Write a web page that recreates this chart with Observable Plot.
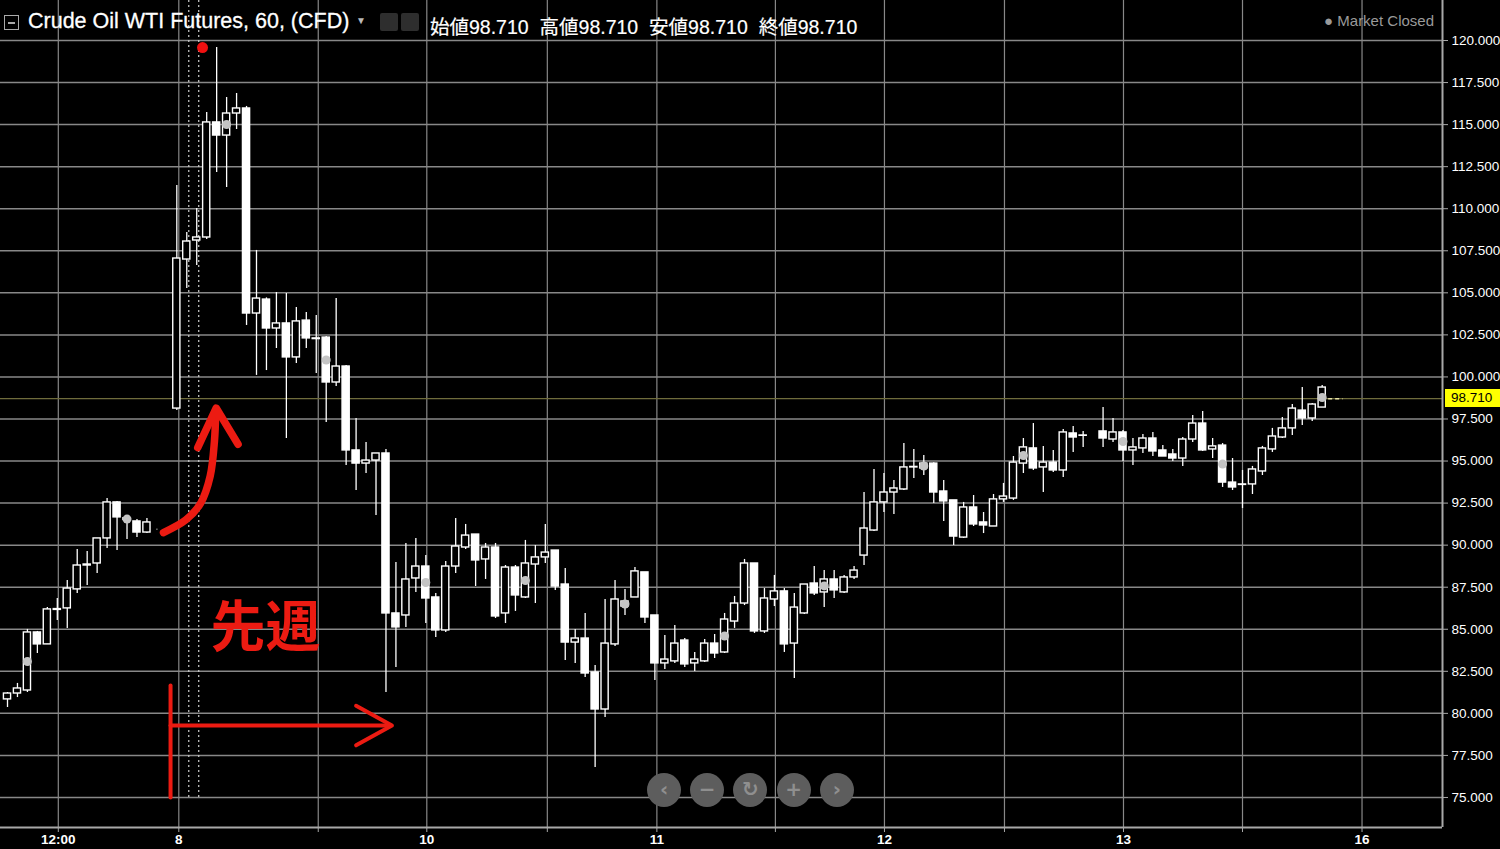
<!DOCTYPE html>
<html>
<head>
<meta charset="utf-8">
<script src="https://cdn.jsdelivr.net/npm/d3@7"></script>
<script src="https://cdn.jsdelivr.net/npm/@observablehq/plot@0.6"></script>
<style>
  html, body { margin: 0; padding: 0; background: #000; }
  #wrap { position: relative; width: 1500px; height: 849px; overflow: hidden; background: #000; }
  #chart svg { display: block; }
  .hdr { position: absolute; top: 0; left: 0; height: 40px; width: 1500px; font-family: "Liberation Sans", Arial, sans-serif; color: #fff; }
  .box { position: absolute; left: 4px; top: 15px; width: 13px; height: 13px; border: 1.5px solid #aaa; }
  .box::after { content: ""; position: absolute; left: 3px; right: 3px; top: 6px; height: 1.5px; background: #aaa; }
  .title { position: absolute; left: 28px; top: 9px; font-size: 21.5px; white-space: nowrap; -webkit-text-stroke: 0.3px #fff; }
  .caret { position: absolute; left: 356px; top: 15px; font-size: 10px; color: #bbb; }
  .ico { position: absolute; top: 13px; width: 18px; height: 18px; background: #2e2e2e; border-radius: 2px; }
  .ohlc { position: absolute; left: 430px; top: 11px; font-size: 19.5px; white-space: nowrap; word-spacing: 5.5px; font-family: "Liberation Sans", "Noto Sans CJK JP", sans-serif; -webkit-text-stroke: 0.2px #fff; }
  .mkt { position: absolute; right: 66px; top: 12px; font-size: 15px; color: #9a9a9a; white-space: nowrap; }
  .tag { position: absolute; left: 1445px; width: 58px; height: 18px; background: #ffff00; color: #000; font: 13.5px "Liberation Sans", Arial, sans-serif; line-height: 18px; padding-left: 6px; box-sizing: border-box; }
  .btn { position: absolute; width: 34px; height: 34px; border-radius: 17px; background: #5d5d5d; color: #8f8f8f; font: bold 20px "DejaVu Sans", sans-serif; text-align: center; line-height: 33px; }
</style>
</head>
<body>
<div id="wrap">
  <div id="chart"></div>
  <div class="hdr">
    <div class="box"></div>
    <div class="title">Crude Oil WTI Futures, 60, (CFD)</div>
    <div class="caret">▼</div>
    <div class="ico" style="left:380px"></div>
    <div class="ico" style="left:401px"></div>
    <div class="ohlc" id="ohlc"></div>
    <div class="mkt">● Market Closed</div>
  </div>
  <div class="tag" id="tag"></div>
  <div id="btns"></div>
</div>
<script>
// ---- data (hourly candles, index = bar number; index 16 has no bar) ----
const opens  = [80.83,81.18,81.36,84.81,84.10,86.15,86.24,87.37,88.79,88.91,90.40,92.54,91.60,91.41,90.75,90.93,null,
  98.12,106.98,108.11,108.29,115.13,114.35,115.66,115.96,103.77,104.60,102.88,103.18,101.16,103.35,102.29,102.34,99.67,100.62,95.63,94.85,95.03,95.45,85.94,85.82,88.02,88.73,86.89,84.93,88.73,89.86,90.63,89.15,89.86,85.94,88.67,86.89,88.85,89.27,89.68,87.66,84.21,84.45,82.43,80.23,84.10,86.35,86.89,88.38,85.82,82.97,83.09,84.33,82.97,83.09,84.15,83.62,85.46,86.53,88.91,84.87,86.77,87.25,84.15,85.94,87.72,87.19,87.96,87.19,88.08,89.38,90.87,92.54,93.13,93.31,94.62,94.56,94.85,93.19,92.66,90.45,92.24,91.35,91.11,92.72,92.77,94.85,95.75,94.62,94.91,94.44,96.64,96.52,95.75,96.76,96.28,96.70,95.63,95.75,96.34,95.63,95.39,95.15,96.28,97.23,95.69,95.92,93.72,93.61,93.61,94.38,95.69,96.40,96.94,98.00,97.53,98.18];
const highs  = [81.24,81.78,84.99,84.87,86.29,86.83,87.90,89.74,89.62,90.40,92.77,92.60,91.76,91.53,91.59,90.95,null,
  111.38,108.59,110.01,115.72,119.58,116.61,116.85,116.08,107.52,104.70,105.02,104.96,104.13,103.83,103.65,102.40,104.66,100.68,97.53,96.10,95.45,95.69,88.97,90.10,90.40,89.38,87.13,89.03,91.59,91.23,90.63,90.10,90.10,88.79,88.79,90.28,89.98,91.23,89.68,88.61,84.99,85.94,82.85,86.77,87.90,87.37,88.67,88.38,85.82,84.63,85.23,84.45,83.62,84.39,84.69,85.94,86.95,89.15,88.91,87.42,88.20,87.42,87.13,87.66,88.73,88.49,88.49,88.20,88.73,93.13,94.50,94.26,93.84,96.04,95.69,95.33,94.90,93.84,92.66,92.54,92.95,91.94,93.01,93.67,95.27,96.34,97.23,95.87,95.63,96.88,97.05,96.76,95.75,98.18,97.53,96.82,96.34,96.58,96.70,95.92,95.69,96.40,97.71,97.95,96.34,96.04,95.15,94.44,94.68,95.87,96.94,97.59,98.36,99.37,98.42,99.49];
const lows   = [80.35,80.94,81.24,83.56,84.10,85.52,85.05,87.13,87.60,88.32,89.80,89.68,90.34,90.45,90.69,90.90,null,
  98.00,105.26,106.63,108.17,112.15,111.26,114.71,103.06,100.09,100.38,101.69,96.34,100.80,101.69,100.20,97.29,99.43,94.74,93.25,94.26,91.76,81.24,82.73,85.11,87.19,85.34,84.51,84.81,88.32,89.74,87.54,87.96,85.64,85.34,86.06,86.83,86.53,88.91,87.31,83.14,82.97,82.13,76.78,79.76,83.98,85.82,86.89,85.34,81.95,82.61,82.97,82.73,82.49,83.03,83.26,83.56,85.05,86.41,84.75,84.75,86.35,83.62,82.07,85.88,87.01,86.29,86.83,87.13,87.96,88.79,90.81,91.94,91.82,93.25,93.96,94.14,92.48,91.41,89.98,90.40,91.11,90.69,91.11,92.54,92.66,94.26,94.44,93.13,94.32,94.02,95.51,95.81,95.75,95.81,96.10,94.97,94.74,95.45,95.27,95.27,94.97,94.68,96.10,95.57,95.15,93.43,93.25,92.18,93.01,94.14,95.51,96.34,96.52,97.11,97.35,98.18];
const closes = [81.18,81.48,84.81,84.10,86.18,86.20,87.42,88.79,88.85,90.40,92.54,91.65,91.50,90.75,91.35,90.93,null,
  107.04,108.05,108.29,115.13,114.35,115.66,115.96,103.77,104.66,102.88,103.18,101.16,103.30,102.29,102.25,99.67,100.62,95.63,94.85,95.03,95.45,85.94,85.11,87.96,88.73,86.83,84.93,88.73,89.92,90.57,89.09,89.86,85.76,88.67,87.01,88.91,89.27,89.56,87.54,84.21,84.45,82.37,80.23,84.15,86.77,86.65,88.44,85.70,82.97,83.20,84.15,82.91,83.20,84.15,83.56,85.58,86.53,88.91,84.87,86.83,87.25,84.10,86.29,87.66,87.13,87.96,87.31,88.08,88.49,90.99,92.54,93.13,93.37,94.62,94.65,94.85,93.13,92.60,90.51,92.24,91.23,91.17,92.72,92.89,94.91,95.81,94.56,94.91,94.44,96.70,96.40,96.50,95.75,96.34,96.70,95.63,95.81,96.34,95.57,95.27,95.15,96.28,97.23,95.63,95.87,93.72,93.43,93.58,94.50,95.75,96.46,96.94,98.12,97.53,98.36,99.37];
const markerBars = [2,12,22,32,42,52,62,72,82,92,102,112,122,132];   // grey session dots
const lastPrice = 98.71;
const sessionBreaks = [18.2, 19.2];                                  // dotted verticals
const yTicks = [75,77.5,80,82.5,85,87.5,90,92.5,95,97.5,100,102.5,105,107.5,110,112.5,115,117.5,120];
const xTickPos    = [5.1, 17.2, 31.2, 42.1, 54.2, 65.2, 77.1, 88.05, 100.1, 112.05, 124, 136];
const xTickLabels = ["12:00","8","","10","","11","","12","","13","","16"];
const ohlcLabels = ["始値","高値","安値","終値"];
// annotation shapes (in bar-index / price units)
const curvePts  = [{x:15.66,y:90.75},{x:17.9,y:91.5},{x:19.4,y:92.5},{x:20.35,y:94.1},{x:20.78,y:96.2},{x:20.9,y:97.8}];
const headPts   = [{x:19.1,y:95.8},{x:20.95,y:98.15},{x:23.15,y:96.0}];
const weekBar   = [{x:16.37,y:81.66},{x:16.37,y:75.0}];
const weekArrow = [{x:16.37,y:79.28},{x:38.45,y:79.28}];
const weekHead  = [{x:35.0,y:80.45},{x:38.6,y:79.28},{x:35.0,y:78.1}];
const annText   = [{x:25.9,y:85.05,t:"先週"}];
const peakDot   = [{x:19.58,y:119.58}];

// ---- build ----
const candles = opens.map((o,i)=>({i, open:o, high:highs[i], low:lows[i], close:closes[i]})).filter(d=>d.open!=null);
const markers = candles.filter(d=>markerBars.includes(d.i));
const lastBar = candles[candles.length-1].i;
const xDomain = [-0.703, 144.08];
const yDomain = [73.215, 122.378];
const labelMap = new Map(xTickPos.map((p,k)=>[p, xTickLabels[k]]));
const RED = "#ec1b12";
const GRID = "#888888";

const chart = Plot.plot({
  width: 1500, height: 849,
  marginLeft: 0, marginRight: 58, marginTop: 0, marginBottom: 22,
  style: {background: "#000", color: "#fff", fontFamily: "Liberation Sans, Arial, sans-serif", fontSize: "13px", overflow: "visible"},
  x: {domain: xDomain, axis: null},
  y: {domain: yDomain, axis: null},
  marks: [
    Plot.gridX(xTickPos, {stroke: GRID, strokeOpacity: 1, strokeWidth: 1.2}),
    Plot.gridY(yTicks, {stroke: GRID, strokeOpacity: 1, strokeWidth: 1.5}),
    Plot.ruleY([lastPrice], {stroke: "#6f6c3c", strokeWidth: 1.2}),
    Plot.ruleX(sessionBreaks, {y1: 75, y2: yDomain[1], stroke: "#cfcfcf", strokeWidth: 1.2, strokeDasharray: "2,3"}),
    Plot.ruleX([xDomain[1]], {stroke: "#a8a8a8", strokeWidth: 2}),
    Plot.ruleY([yDomain[0]], {stroke: "#a8a8a8", strokeWidth: 2}),
    Plot.axisY(yTicks, {anchor: "right", tickFormat: d3.format(".3f"), tickSize: 5, tickPadding: 4, stroke: "#a8a8a8", fill: "#fff", fontSize: 13.5}),
    Plot.axisX(xTickPos, {anchor: "bottom", tickFormat: d => labelMap.get(d), tickSize: 5, tickPadding: 2, stroke: "#a8a8a8", fill: "#fff", fontSize: 13.5, fontWeight: "bold"}),
    // candles
    Plot.ruleX(candles, {x: "i", y1: "low", y2: "high", stroke: "#fff", strokeWidth: 1.3}),
    Plot.rect(candles, {x1: d => d.i - 0.36, x2: d => d.i + 0.36, y1: "open", y2: "close",
      fill: d => d.close > d.open ? "#000" : "#fff", stroke: "#fff", strokeWidth: 1.4}),
    Plot.dot(markers, {x: "i", y: d => (d.open + d.close) / 2, r: 4.5, fill: "#c4c4c4", stroke: "none"}),
    Plot.ruleY([lastPrice], {x1: lastBar + 0.65, x2: lastBar + 2.1, stroke: "#e6e2a6", strokeWidth: 1.5, strokeDasharray: "4,3"}),
    // annotations
    Plot.line(curvePts, {x: "x", y: "y", stroke: RED, strokeWidth: 7.5, curve: "catmull-rom", strokeLinecap: "round", strokeLinejoin: "round"}),
    Plot.line(headPts, {x: "x", y: "y", stroke: RED, strokeWidth: 7.5, strokeLinecap: "round", strokeLinejoin: "round"}),
    Plot.line(weekBar, {x: "x", y: "y", stroke: RED, strokeWidth: 4, strokeLinecap: "round"}),
    Plot.line(weekArrow, {x: "x", y: "y", stroke: RED, strokeWidth: 4, strokeLinecap: "round"}),
    Plot.line(weekHead, {x: "x", y: "y", stroke: RED, strokeWidth: 4, strokeLinecap: "round", strokeLinejoin: "round"}),
    Plot.text(annText, {x: "x", y: "y", text: "t", fill: RED, fontSize: 55, fontWeight: "bold", fontFamily: "Noto Sans CJK JP"}),
    Plot.dot(peakDot, {x: "x", y: "y", r: 5.5, fill: "#f01010", stroke: "none"})
  ]
});
document.getElementById("chart").append(chart);

// header OHLC
const lp = d3.format(".3f")(lastPrice);
document.getElementById("ohlc").textContent = ohlcLabels.map(l => l + lp).join(" ");
// price tag positioned through the y scale
const tag = document.getElementById("tag");
tag.textContent = lp;
tag.style.top = (chart.scale("y").apply(lastPrice) - 9) + "px";
// navigation buttons (UI chrome)
const btnSyms = ["‹","−","↻","+","›"];
const btns = document.getElementById("btns");
btnSyms.forEach((s, k) => {
  const b = document.createElement("div");
  b.className = "btn";
  b.textContent = s;
  b.style.left = (647 + k * 43.2) + "px";
  b.style.top = "773px";
  btns.append(b);
});
</script>
</body>
</html>
